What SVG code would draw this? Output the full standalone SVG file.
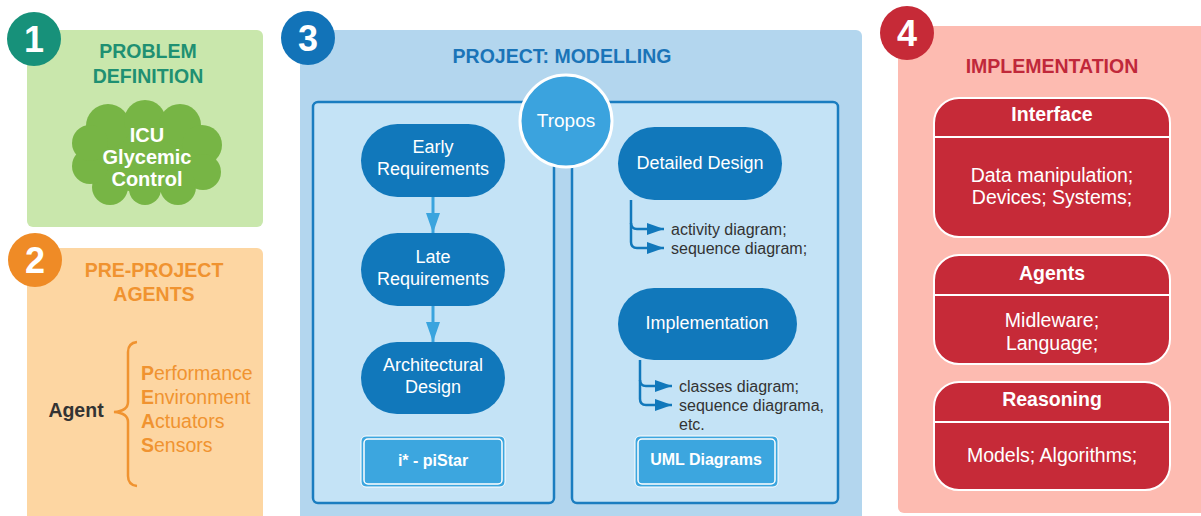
<svg xmlns="http://www.w3.org/2000/svg" width="1201" height="516" viewBox="0 0 1201 516">
<defs>
<style>
text{font-family:"Liberation Sans",Arial,sans-serif;text-anchor:middle}
.b{font-weight:bold}
.badge{font-size:36px;font-weight:bold;fill:#fff}
.g-title{fill:#1f9072;font-size:19.5px;font-weight:bold}
.o-title{fill:#f09330;font-size:19.5px;font-weight:bold}
.o-item{fill:#f09330;font-size:19.5px;text-anchor:start}
.bl-title{fill:#1a74b8;font-size:19.5px;font-weight:bold}
.r-title{fill:#c0283a;font-size:19.5px;font-weight:bold}
.pill{fill:#1178bb}
.pill-t{fill:#fff;font-size:18px}
.lbox{fill:#3ca6df;stroke:#fff;stroke-width:1}
.lbox-in{fill:none;stroke:#fff;stroke-width:1.5}
.lbox-t{fill:#fff;font-size:16px;font-weight:bold}
.inner{fill:#c4e3f6;stroke:#1a7dc0;stroke-width:2.5}
.rbox{fill:#c62a38;stroke:#fff;stroke-width:2}
.rdiv{stroke:#fff;stroke-width:2}
.r-head{fill:#fff;font-size:19.5px;font-weight:bold}
.r-body{fill:#fff;font-size:19.5px}
.note{fill:#333;font-size:16px;text-anchor:start}
.flow{stroke:#3aa4de;stroke-width:3;fill:none}
.branch{stroke:#1178bb;stroke-width:2.5;fill:none}
</style>
<marker id="ahL" viewBox="0 0 20 14" refX="20" refY="7" markerWidth="20" markerHeight="14" markerUnits="userSpaceOnUse" orient="auto">
<path d="M0,0 L20,7 L0,14 z" fill="#3aa4de"/>
</marker>
<marker id="ahD" viewBox="0 0 17 12" refX="17" refY="6" markerWidth="17" markerHeight="12" markerUnits="userSpaceOnUse" orient="auto">
<path d="M0,0 L17,6 L0,12 z" fill="#1178bb"/>
</marker>
</defs>

<!-- Panel 1 -->
<g id="panel1">
<rect x="27" y="30" width="236" height="197" rx="6" fill="#c9e7ac"/>
<text class="g-title" x="148" y="58">PROBLEM</text>
<text class="g-title" x="148" y="83">DEFINITION</text>
</g>
<g id="cloud">
<g fill="#77b545">
<ellipse cx="147" cy="153" rx="60" ry="40"/>
<circle cx="108" cy="126" r="22"/>
<circle cx="145" cy="121" r="21"/>
<circle cx="180" cy="125" r="21"/>
<circle cx="202" cy="145" r="20"/>
<circle cx="203" cy="172" r="18"/>
<circle cx="178" cy="187" r="18"/>
<circle cx="145" cy="189" r="16"/>
<circle cx="110" cy="187" r="18"/>
<circle cx="90" cy="166" r="18"/>
<circle cx="90" cy="143" r="18"/>
</g>
<text class="b" x="147" y="142" fill="#fff" font-size="20">ICU</text>
<text class="b" x="147" y="164" fill="#fff" font-size="20">Glycemic</text>
<text class="b" x="147" y="186" fill="#fff" font-size="20">Control</text>
</g>
<g id="badge1">
<circle cx="34" cy="39" r="27" fill="#17917a"/>
<text class="badge" x="34" y="52">1</text>
</g>

<!-- Panel 2 -->
<g id="panel2">
<rect x="27" y="248" width="236" height="280" rx="6" fill="#fdd6a2"/>
<text class="o-title" x="154" y="277">PRE-PROJECT</text>
<text class="o-title" x="154" y="301">AGENTS</text>
<text x="76" y="417" fill="#333" font-size="19.5" class="b">Agent</text>
<path d="M137,342 Q128,343 128,352 L128,402 Q128,411 114,412 Q128,413 128,422 L128,476 Q128,485 137,486" fill="none" stroke="#f09330" stroke-width="2.5"/>
<text class="o-item" x="141" y="380"><tspan font-weight="bold">P</tspan>erformance</text>
<text class="o-item" x="141" y="404"><tspan font-weight="bold">E</tspan>nvironment</text>
<text class="o-item" x="141" y="428"><tspan font-weight="bold">A</tspan>ctuators</text>
<text class="o-item" x="141" y="452"><tspan font-weight="bold">S</tspan>ensors</text>
</g>
<g id="badge2">
<circle cx="35" cy="260" r="27" fill="#ef8b26"/>
<text class="badge" x="35" y="273">2</text>
</g>

<!-- Panel 3 -->
<g id="panel3">
<rect x="300" y="30" width="562" height="500" rx="6" fill="#b3d6ee"/>
<text class="bl-title" x="562" y="63">PROJECT: MODELLING</text>
<rect class="inner" x="313" y="102" width="241" height="401" rx="5"/>
<rect class="inner" x="572" y="102" width="266" height="401" rx="5"/>
</g>
<g id="tropos">
<circle cx="566" cy="121" r="46" fill="#3ba3de" stroke="#fff" stroke-width="3"/>
<text x="566" y="127" fill="#fff" font-size="19">Tropos</text>
</g>
<g id="badge3">
<circle cx="308" cy="38" r="27" fill="#1273b8"/>
<text class="badge" x="308" y="51">3</text>
</g>

<g id="early">
<rect class="pill" x="361" y="124" width="144" height="73" rx="36.5"/>
<text class="pill-t" x="433" y="153">Early</text>
<text class="pill-t" x="433" y="175">Requirements</text>
</g>
<g id="late">
<rect class="pill" x="361" y="233" width="144" height="73" rx="36.5"/>
<text class="pill-t" x="433" y="263">Late</text>
<text class="pill-t" x="433" y="285">Requirements</text>
</g>
<g id="arch">
<rect class="pill" x="361" y="342" width="144" height="72" rx="36"/>
<text class="pill-t" x="433" y="371">Architectural</text>
<text class="pill-t" x="433" y="393">Design</text>
</g>
<g id="pistar">
<rect class="lbox" x="361" y="436" width="144" height="51" rx="5"/>
<rect class="lbox-in" x="364" y="439" width="138" height="45" rx="4"/>
<text class="lbox-t" x="433" y="466">i* - piStar</text>
</g>

<g id="detailed">
<rect class="pill" x="618" y="127" width="164" height="73" rx="36.5"/>
<text class="pill-t" x="700" y="169">Detailed Design</text>
<text class="note" x="671" y="235">activity diagram;</text>
<text class="note" x="671" y="254">sequence diagram;</text>
</g>
<g id="impl">
<rect class="pill" x="618" y="288" width="179" height="72" rx="36"/>
<text class="pill-t" x="707" y="329">Implementation</text>
<text class="note" x="679" y="392">classes diagram;</text>
<text class="note" x="679" y="411">sequence diagrama,</text>
<text class="note" x="679" y="430">etc.</text>
</g>
<g id="uml">
<rect class="lbox" x="635" y="436" width="143" height="51" rx="5"/>
<rect class="lbox-in" x="638" y="439" width="137" height="45" rx="4"/>
<text class="lbox-t" x="706" y="465">UML Diagrams</text>
</g>

<!-- Panel 4 -->
<g id="panel4">
<rect x="898" y="26" width="315" height="487" rx="6" fill="#fdbbb1"/>
<text class="r-title" x="1052" y="73">IMPLEMENTATION</text>
</g>
<g id="badge4">
<circle cx="907" cy="33" r="27" fill="#c62a37"/>
<text class="badge" x="907" y="46">4</text>
</g>
<g id="interface">
<rect class="rbox" x="934" y="98" width="236" height="139" rx="25"/>
<line class="rdiv" x1="935" y1="137" x2="1169" y2="137"/>
<text class="r-head" x="1052" y="121">Interface</text>
<text class="r-body" x="1052" y="182">Data manipulation;</text>
<text class="r-body" x="1052" y="204">Devices; Systems;</text>
</g>
<g id="agents">
<rect class="rbox" x="934" y="255" width="236" height="109" rx="25"/>
<line class="rdiv" x1="935" y1="295" x2="1169" y2="295"/>
<text class="r-head" x="1052" y="280">Agents</text>
<text class="r-body" x="1052" y="327">Midleware;</text>
<text class="r-body" x="1052" y="350">Language;</text>
</g>
<g id="reasoning">
<rect class="rbox" x="934" y="382" width="236" height="108" rx="25"/>
<line class="rdiv" x1="935" y1="422" x2="1169" y2="422"/>
<text class="r-head" x="1052" y="406">Reasoning</text>
<text class="r-body" x="1052" y="462">Models; Algorithms;</text>
</g>

<g id="connectors">
<line class="flow" x1="433" y1="197" x2="433" y2="233" marker-end="url(#ahL)"/>
<line class="flow" x1="433" y1="306" x2="433" y2="342" marker-end="url(#ahL)"/>
<path class="branch" d="M631,200 L631,223 Q631,229 637,229 L664,229" marker-end="url(#ahD)"/>
<path class="branch" d="M631,223 L631,242 Q631,248 637,248 L664,248" marker-end="url(#ahD)"/>
<path class="branch" d="M640,360 L640,380 Q640,386 646,386 L672,386" marker-end="url(#ahD)"/>
<path class="branch" d="M640,380 L640,399 Q640,405 646,405 L672,405" marker-end="url(#ahD)"/>
</g>
</svg>
